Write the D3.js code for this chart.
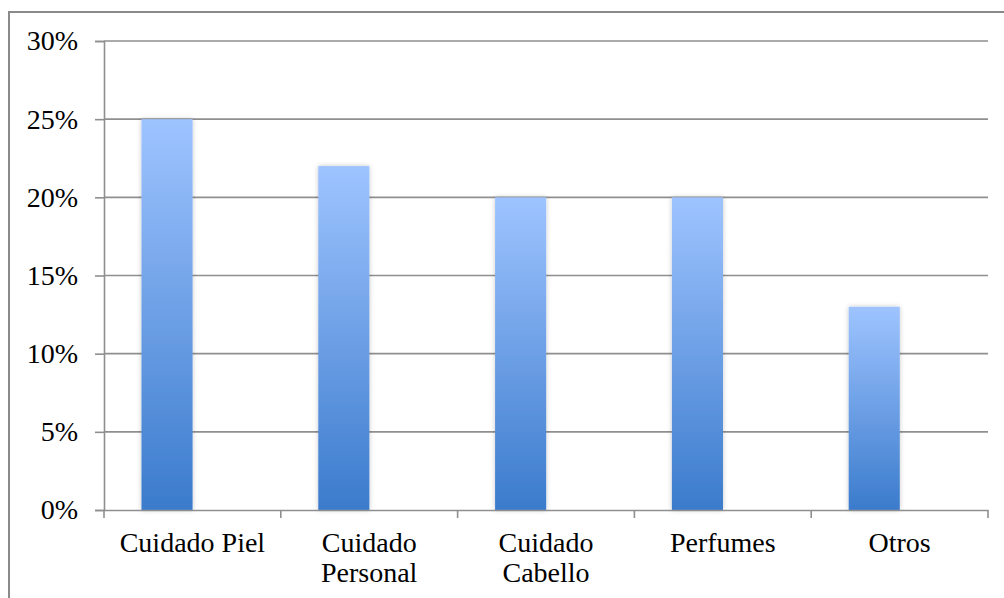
<!DOCTYPE html>
<html>
<head>
<meta charset="utf-8">
<script src="https://cdn.jsdelivr.net/npm/d3@7"></script>
<style>
  html, body { margin: 0; padding: 0; background: #fff; }
  svg { display: block; }
</style>
</head>
<body>
<svg id="chart" width="1004" height="598"></svg>
<script>
const categories = ["Cuidado Piel", "Cuidado Personal", "Cuidado Cabello", "Perfumes", "Otros"];
const values = [0.25, 0.22, 0.20, 0.20, 0.13];
const yTicks = [0, 0.05, 0.10, 0.15, 0.20, 0.25, 0.30];

(function () {
const svg = d3.select("#chart");
const W = 1004, H = 598;
const pLeft = 104, pRight = 988, pTop = 41, pBottom = 510;
const font = "'Liberation Serif', 'Times New Roman', serif";

// outer frame
svg.append("rect")
  .attr("x", 9).attr("y", 12)
  .attr("width", W + 20).attr("height", H + 20)
  .attr("fill", "#fff").attr("stroke", "#8a8a8a").attr("stroke-width", 2);

const defs = svg.append("defs");
const grad = defs.append("linearGradient")
  .attr("id", "barGrad").attr("x1", 0).attr("y1", 0).attr("x2", 0).attr("y2", 1);
grad.append("stop").attr("offset", "0%").attr("stop-color", "#9ec4ff");
grad.append("stop").attr("offset", "100%").attr("stop-color", "#3b7bcc");

const shadow = defs.append("filter").attr("id", "shadow")
  .attr("x", "-30%").attr("y", "-10%").attr("width", "160%").attr("height", "120%");
shadow.append("feDropShadow").attr("dx", 0).attr("dy", 0).attr("stdDeviation", 2.5)
  .attr("flood-color", "#000").attr("flood-opacity", 0.22);

const x = d3.scaleBand().domain(categories).range([pLeft, pRight]).paddingInner(0).paddingOuter(0);
const y = d3.scaleLinear().domain([0, 0.30]).range([pBottom, pTop]);

// gridlines
svg.append("g").selectAll("line").data(yTicks.filter(d => d > 0)).join("line")
  .attr("x1", pLeft).attr("x2", pRight)
  .attr("y1", d => y(d)).attr("y2", d => y(d))
  .attr("stroke", "#8f8f8f").attr("stroke-width", 1.6);

// y axis
const yAxis = svg.append("g")
  .attr("transform", `translate(${pLeft},0)`)
  .call(d3.axisLeft(y).tickValues(yTicks).tickFormat(d3.format(".0%")).tickSize(9).tickPadding(17));
yAxis.select(".domain").attr("stroke", "#8f8f8f").attr("stroke-width", 1.6);
yAxis.selectAll(".tick line").attr("stroke", "#8f8f8f").attr("stroke-width", 1.6);
yAxis.selectAll("text").attr("font-family", font).attr("font-size", 28).attr("fill", "#000");

// bars
const bw = x.bandwidth();
svg.append("g").selectAll("rect").data(categories).join("rect")
  .attr("x", (d) => x(d) + bw * 0.212)
  .attr("width", bw * 0.289)
  .attr("y", (d, i) => y(values[i]))
  .attr("height", (d, i) => y(0) - y(values[i]))
  .attr("fill", "url(#barGrad)")
  .attr("filter", "url(#shadow)");

// x axis
const xAxis = svg.append("g")
  .attr("transform", `translate(0,${pBottom})`)
  .call(d3.axisBottom(x).tickSize(0).tickFormat(""));
xAxis.select(".domain").attr("stroke", "#8f8f8f").attr("stroke-width", 1.6);
xAxis.selectAll(".tick").remove();
const bounds = [pLeft].concat(categories.map(c => x(c) + bw));
xAxis.selectAll("line.tk").data(bounds).join("line").attr("class", "tk")
  .attr("x1", d => d).attr("x2", d => d).attr("y1", 0).attr("y2", 8)
  .attr("stroke", "#8f8f8f").attr("stroke-width", 1.6);

// category labels with wrapping
const labels = svg.append("g");
categories.forEach(c => {
  const cx = x(c) + bw / 2;
  const t = labels.append("text")
    .attr("x", cx).attr("y", 552)
    .attr("text-anchor", "middle")
    .attr("font-family", font).attr("font-size", 28).attr("fill", "#000");
  const words = c.split(" ");
  let line = [];
  let tspan = t.append("tspan").attr("x", cx).attr("dy", 0);
  words.forEach(w => {
    line.push(w);
    tspan.text(line.join(" "));
    if (tspan.node().getComputedTextLength() > bw - 20 && line.length > 1) {
      line.pop();
      tspan.text(line.join(" "));
      line = [w];
      tspan = t.append("tspan").attr("x", cx).attr("dy", 30).text(w);
    }
  });
});
})();
</script>
</body>
</html>
